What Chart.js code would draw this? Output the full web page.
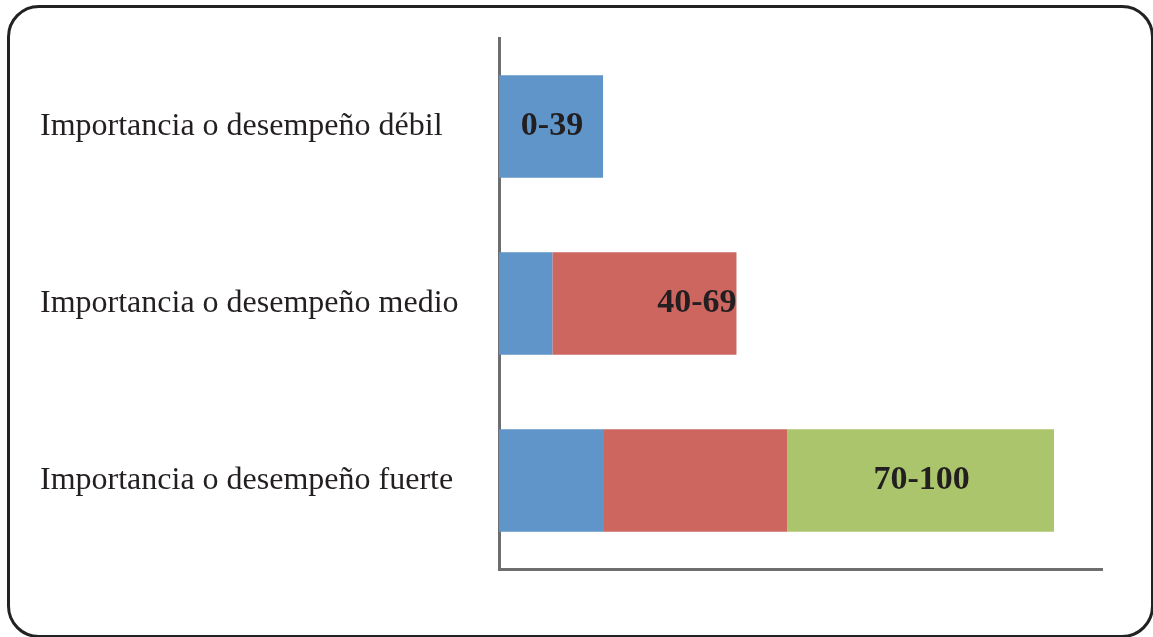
<!DOCTYPE html>
<html lang="es">
<head>
    <meta charset="UTF-8">
    <title>Importancia o desempeño</title>
    <script src="https://cdn.jsdelivr.net/npm/chart.js"></script>
    <style>
        html, body { margin: 0; padding: 0; background: #fff; }
        body { width: 1153px; height: 637px; position: relative; overflow: hidden; }
        #marco {
            position: absolute; left: 7px; top: 5px; width: 1147px; height: 633px;
            border: 3px solid #222; border-radius: 32px; box-sizing: border-box;
        }
        #wrap { position: absolute; left: 0; top: 0; width: 1153px; height: 637px; }
    </style>
</head>
<body>
    <div id="marco"></div>
    <div id="wrap"><canvas id="grafico"></canvas></div>

    <script>
        // Datos
        const categorias = ['Importancia o desempeño débil', 'Importancia o desempeño medio', 'Importancia o desempeño fuerte'];
        const serieAzul = [39, 20, 39];
        const serieRoja = [0, 69, 69];
        const serieVerde = [0, 0, 100];
        const etiquetasAzul = ['0-39', '', ''];
        const etiquetasRoja = ['', '40-69', ''];
        const etiquetasVerde = ['', '', '70-100'];
        const xMax = 226;

        // Etiquetas dentro de las barras
        const etiquetasPlugin = {
            id: 'etiquetas',
            afterDatasetsDraw(chart) {
                const ctx = chart.ctx;
                ctx.save();
                ctx.font = 'bold 34px "Liberation Serif", "Times New Roman", serif';
                ctx.fillStyle = '#231f20';
                ctx.textBaseline = 'middle';
                chart.data.datasets.forEach((ds, i) => {
                    const meta = chart.getDatasetMeta(i);
                    meta.data.forEach((bar, j) => {
                        const txt = ds.etiquetas[j];
                        if (!txt) return;
                        if (ds.alinear === 'end') {
                            ctx.textAlign = 'right';
                            ctx.fillText(txt, bar.x, bar.y);
                        } else {
                            ctx.textAlign = 'center';
                            ctx.fillText(txt, (bar.x + bar.base) / 2 + 1, bar.y);
                        }
                    });
                });
                ctx.restore();
            }
        };

        new Chart(document.getElementById('grafico'), {
            type: 'bar',
            data: {
                labels: categorias,
                datasets: [
                    { data: serieAzul, backgroundColor: '#5f95c9', etiquetas: etiquetasAzul },
                    { data: serieRoja, backgroundColor: '#ce6660', etiquetas: etiquetasRoja, alinear: 'end' },
                    { data: serieVerde, backgroundColor: '#abc56c', etiquetas: etiquetasVerde }
                ]
            },
            options: {
                indexAxis: 'y',
                responsive: true,
                maintainAspectRatio: false,
                animation: false,
                layout: { padding: { left: 40, top: 38, right: 51, bottom: 68 } },
                plugins: { legend: { display: false }, tooltip: { enabled: false } },
                datasets: { bar: { categoryPercentage: 0.58, barPercentage: 1 } },
                scales: {
                    x: {
                        stacked: true,
                        min: 0,
                        max: xMax,
                        grid: { display: false, drawTicks: false },
                        border: { color: '#6d6e70', width: 3 },
                        ticks: { display: false }
                    },
                    y: {
                        stacked: true,
                        grid: { display: false, drawTicks: false },
                        border: { color: '#6d6e70', width: 3 },
                        afterFit(scale) { scale.width = 459; },
                        ticks: {
                            crossAlign: 'far',
                            color: '#231f20',
                            font: { family: '"Liberation Serif", "Times New Roman", serif', size: 32 }
                        }
                    }
                }
            },
            plugins: [etiquetasPlugin]
        });
    </script>
</body>
</html>
